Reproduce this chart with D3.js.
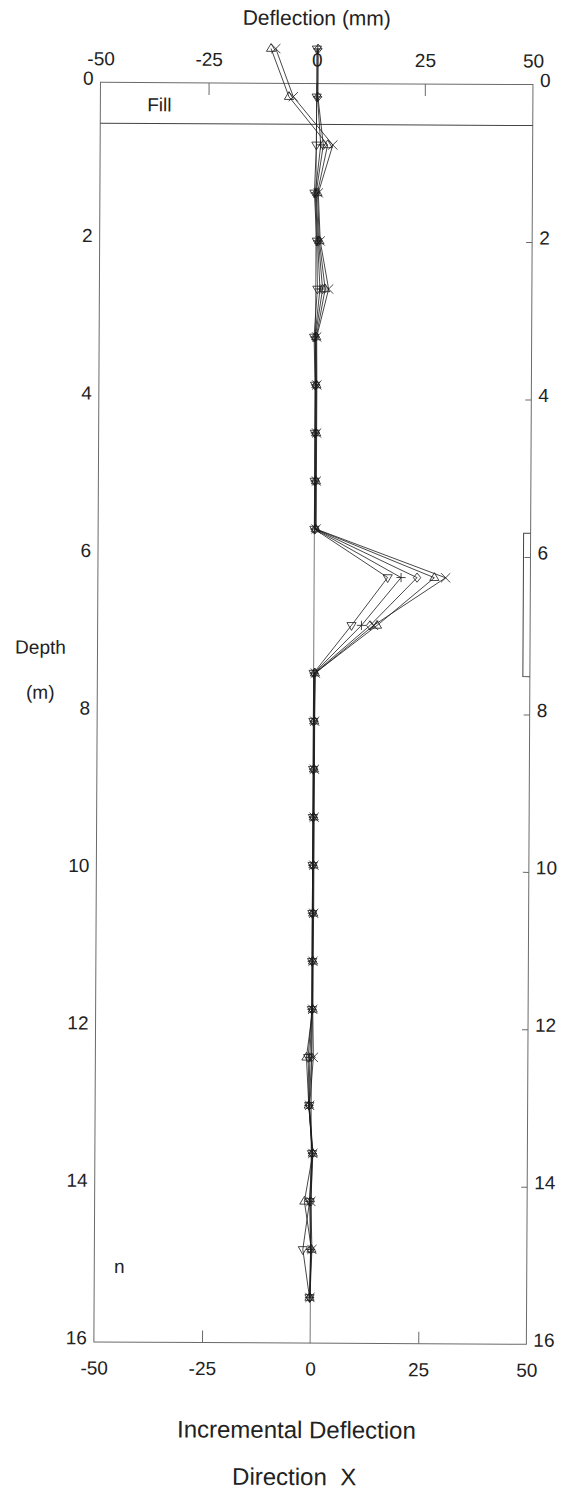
<!DOCTYPE html>
<html>
<head>
<meta charset="utf-8">
<script src="https://cdn.jsdelivr.net/npm/d3@7"></script>
<style>
    body { margin: 0; background: #fff; }
    svg { display: block; }
    text { font-family: 'Liberation Sans', Arial, sans-serif; fill: #222; }
</style>
</head>
<body>
<div id="chart"></div>
<script>
// Depth of each reading (m)
const depths = [-0.44, 0.17, 0.78, 1.39, 2.00, 2.61, 3.22, 3.83, 4.44, 5.05, 5.66, 6.27, 6.88, 7.49,
    8.10, 8.71, 9.32, 9.93, 10.54, 11.15, 11.76, 12.37, 12.98, 13.59, 14.20, 14.81, 15.42];

// Incremental deflection (mm), one array per reading set
const setDown = [0, 0, 0, -0.4, 0.2, 0.4, -0.3, 0, 0, 0, 0, 17.0, 8.7, 0,
    0, 0, 0, 0, 0, 0, 0, -0.8, -0.5, 0.2, -0.3, -1.8, -0.2];
const setPlus = [0.2, 0.2, 1.0, -0.2, 0.4, 1.0, -0.1, 0.1, 0.1, 0.1, 0.1, 20.1, 11.0, 0.1,
    0.1, 0.1, 0.1, 0, 0, 0, 0, -0.4, -0.6, 0.3, -0.3, 0, -0.2];
const setDiamond = [0.3, 0.3, 1.6, 0, 0.6, 1.6, 0, 0.2, 0.2, 0.2, 0.2, 23.8, 13.0, 0.2,
    0.2, 0.2, 0.1, 0.1, 0.1, 0.1, 0.1, 0, -0.5, 0.3, 0, 0, -0.1];
const setUp = [-10.6, -6.4, 2.6, 0.3, 0.8, 2.2, 0.2, 0.3, 0.3, 0.3, 0.3, 27.8, 14.6, 0.3,
    0.2, 0.2, 0.2, 0.2, 0.2, 0.2, 0.2, -1.2, -0.6, 0.4, -1.5, 0.2, -0.2];
const setCross = [-9.5, -5.4, 3.8, 0.5, 1.0, 3.0, 0.3, 0.4, 0.4, 0.4, 0.4, 30.4, 13.8, 0.4,
    0.3, 0.3, 0.3, 0.3, 0.3, 0.2, 0.2, 0.4, -0.4, 0.4, 0, 0.3, -0.1];

// Axis ticks
const xTicks = [-50, -25, 0, 25, 50];
const xInnerTicks = [-25, 25];
const yTicks = [0, 2, 4, 6, 8, 10, 12, 14, 16];
const yInnerTicks = [2, 4, 6, 8, 10, 12, 14];

// Fill layer bottom and marked zone (m)
const fillDepth = 0.52;
const shearZone = [5.7, 7.52];

const W = 569, H = 1491;
const plot = { left: 97, right: 529.5, top: 83.3, bottom: 1343 };

const x = d3.scaleLinear().domain([-50, 50]).range([plot.left, plot.right]);
const y = d3.scaleLinear().domain([0, 16]).range([plot.top, plot.bottom]);

// plain hyphen minus like the original
const fmt = d => String(d);

const svg = d3.select('#chart').append('svg')
    .attr('width', W)
    .attr('height', H);

// the original scan is slightly tilted
const g = svg.append('g')
    .attr('transform', `rotate(0.3, ${W / 2}, ${H / 2})`);

const lineColor = '#1a1a1a';
const frameColor = '#6a6a6a';

// frame
g.append('rect')
    .attr('x', plot.left)
    .attr('y', plot.top)
    .attr('width', plot.right - plot.left)
    .attr('height', plot.bottom - plot.top)
    .attr('fill', 'none')
    .attr('stroke', frameColor)
    .attr('stroke-width', 1);

// zero line
g.append('line')
    .attr('x1', x(0)).attr('x2', x(0))
    .attr('y1', y(0)).attr('y2', y(16))
    .attr('stroke', '#555')
    .attr('stroke-width', 0.8);

// fill boundary
g.append('line')
    .attr('x1', plot.left).attr('x2', plot.right)
    .attr('y1', y(fillDepth)).attr('y2', y(fillDepth))
    .attr('stroke', '#444')
    .attr('stroke-width', 1);

g.append('text')
    .attr('x', 156)
    .attr('y', 112)
    .attr('text-anchor', 'middle')
    .style('font-size', '19px')
    .text('Fill');

// axes
function tidy(sel) {
    sel.select('.domain').remove();
    sel.selectAll('line').attr('stroke', frameColor);
    sel.selectAll('text').attr('fill', '#222').style('font-size', '19px');
    sel.attr('font-family', null);
}

g.append('g')
    .attr('transform', `translate(0,${y(0)})`)
    .call(d3.axisTop(x).tickValues(xTicks).tickFormat(fmt).tickSize(0).tickPadding(17))
    .call(tidy);

g.append('g')
    .attr('transform', `translate(0,${y(0)})`)
    .call(d3.axisBottom(x).tickValues(xInnerTicks).tickSize(12).tickFormat(''))
    .call(tidy);

g.append('g')
    .attr('transform', `translate(0,${y(16)})`)
    .call(d3.axisBottom(x).tickValues(xTicks).tickFormat(fmt).tickSize(0).tickPadding(19))
    .call(tidy);

g.append('g')
    .attr('transform', `translate(0,${y(16)})`)
    .call(d3.axisTop(x).tickValues(xInnerTicks).tickSize(12).tickFormat(''))
    .call(tidy);

g.append('g')
    .attr('transform', `translate(${plot.left},0)`)
    .call(d3.axisLeft(y).tickValues(yTicks).tickFormat(fmt).tickSize(0).tickPadding(7))
    .call(tidy)
    .selectAll('text').attr('dy', '0.1em');

g.append('g')
    .attr('transform', `translate(${plot.right},0)`)
    .call(d3.axisRight(y).tickValues(yTicks).tickFormat(fmt).tickSize(0).tickPadding(7))
    .call(tidy)
    .selectAll('text').attr('dy', '0.1em');

g.append('g')
    .attr('transform', `translate(${plot.right},0)`)
    .call(d3.axisLeft(y).tickValues(yInnerTicks).tickSize(6).tickFormat(''))
    .call(tidy);

// bracket on the right side
const bx = plot.right - 7;
g.append('path')
    .attr('d', `M${plot.right},${y(shearZone[0])}H${bx}V${y(shearZone[1])}H${plot.right}`)
    .attr('fill', 'none')
    .attr('stroke', '#444')
    .attr('stroke-width', 1);

// titles
g.append('text')
    .attr('x', 313)
    .attr('y', 25)
    .attr('text-anchor', 'middle')
    .style('font-size', '21px')
    .text('Deflection (mm)');

g.append('text')
    .attr('x', 40)
    .attr('y', 655)
    .attr('text-anchor', 'middle')
    .style('font-size', '19px')
    .text('Depth');

g.append('text')
    .attr('x', 40)
    .attr('y', 700)
    .attr('text-anchor', 'middle')
    .style('font-size', '19px')
    .text('(m)');

g.append('text')
    .attr('x', 122)
    .attr('y', 1274)
    .attr('text-anchor', 'middle')
    .style('font-size', '19px')
    .text('n');

g.append('text')
    .attr('x', 300)
    .attr('y', 1438)
    .attr('text-anchor', 'middle')
    .style('font-size', '24px')
    .text('Incremental Deflection');

g.append('text')
    .attr('x', 298)
    .attr('y', 1485)
    .attr('text-anchor', 'middle')
    .style('font-size', '24px')
    .style('white-space', 'pre')
    .text('Direction  X');

// marker shapes (open, stroked)
const s = 4.6;
const markers = {
    down: `M${-s},${-s * 0.6}L${s},${-s * 0.6}L0,${s * 1.1}Z`,
    up: `M${-s},${s * 0.6}L${s},${s * 0.6}L0,${-s * 1.1}Z`,
    plus: `M${-s},0H${s}M0,${-s}V${s}`,
    diamond: `M0,${-s}L${s * 0.8},0L0,${s}L${-s * 0.8},0Z`,
    cross: `M${-s},${-s}L${s},${s}M${-s},${s}L${s},${-s}`
};

const sets = [
    { values: setDown, marker: 'down' },
    { values: setPlus, marker: 'plus' },
    { values: setDiamond, marker: 'diamond' },
    { values: setUp, marker: 'up' },
    { values: setCross, marker: 'cross' }
];

const line = d3.line()
    .x(d => x(d.v))
    .y(d => y(d.depth));

sets.forEach(set => {
    const pts = depths.map((depth, i) => ({ depth, v: set.values[i] }));

    g.append('path')
        .datum(pts)
        .attr('d', line)
        .attr('fill', 'none')
        .attr('stroke', lineColor)
        .attr('stroke-width', 0.8);

    g.selectAll(null)
        .data(pts)
        .join('path')
        .attr('transform', d => `translate(${x(d.v)},${y(d.depth)})`)
        .attr('d', markers[set.marker])
        .attr('fill', 'none')
        .attr('stroke', lineColor)
        .attr('stroke-width', 0.8);
});
</script>
</body>
</html>
